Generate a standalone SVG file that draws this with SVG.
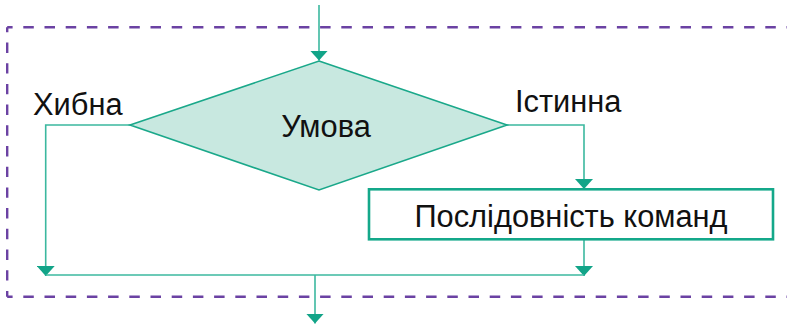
<svg xmlns="http://www.w3.org/2000/svg" width="787" height="326" viewBox="0 0 787 326">
<style>
.ln{fill:none;stroke:#3bb89f;stroke-width:1.6}
.dash{fill:none;stroke:#6b42a3;stroke-width:2.4}
.tx{font-family:"Liberation Sans",Arial,sans-serif;font-size:30.8px;fill:#111}
</style>
<defs>
<marker id="ah" viewBox="0 0 10 18" refX="10" refY="9" markerWidth="10" markerHeight="18" markerUnits="userSpaceOnUse" orient="auto">
<path d="M0,0 L10,9 L0,18 z" fill="#12a488"/>
</marker>
</defs>
<g id="frame">
<line class="dash" x1="7.2" y1="27.3" x2="787" y2="27.3" stroke-dasharray="10.5 10.7" stroke-dashoffset="5.1"/>
<line class="dash" x1="7.2" y1="296.8" x2="787" y2="296.8" stroke-dasharray="10.5 10.7" stroke-dashoffset="5.1"/>
<line class="dash" x1="7.2" y1="27.3" x2="7.2" y2="296.8" stroke-dasharray="10.4 10.3" stroke-dashoffset="5.5"/>
</g>
<g id="connectors">
<line class="ln" x1="319" y1="5" x2="319" y2="60.5" marker-end="url(#ah)"/>
<polyline class="ln" points="130,125 45.7,125 45.7,276" marker-end="url(#ah)"/>
<polyline class="ln" points="507,125 584,125 584,189" marker-end="url(#ah)"/>
<line class="ln" x1="584" y1="240" x2="584" y2="276" marker-end="url(#ah)"/>
<line class="ln" x1="45.7" y1="275" x2="584" y2="275"/>
<line class="ln" x1="315" y1="275" x2="315" y2="323.5" marker-end="url(#ah)"/>
</g>
<g id="condition">
<polygon points="319,61 507,125 319,190 130,125" fill="#c8e8e0" stroke="#1aa88a" stroke-width="1.6"/>
<text class="tx" x="326" y="137" text-anchor="middle">Умова</text>
</g>
<g id="label-false">
<text class="tx" x="33" y="115">Хибна</text>
</g>
<g id="label-true">
<text class="tx" x="515" y="112">Істинна</text>
</g>
<g id="commands">
<rect x="369" y="189.3" width="404" height="50" fill="#fff" stroke="#14a88a" stroke-width="2.6"/>
<text class="tx" x="571" y="226.7" text-anchor="middle">Послідовність команд</text>
</g>
</svg>
